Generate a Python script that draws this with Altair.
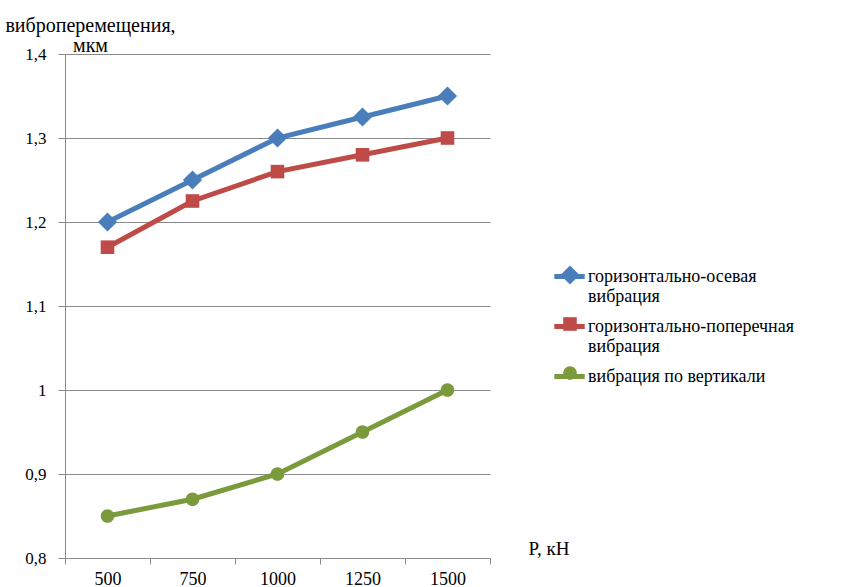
import altair as alt
import pandas as pd

# Load P (kN) on the x axis, vibration displacement (um) on the y axis
P_KN = ["500", "750", "1000", "1250", "1500"]
SERIES = [
    "горизонтально-осевая\nвибрация",
    "горизонтально-поперечная\nвибрация",
    "вибрация  по вертикали",
]
AXIAL = [1.2, 1.25, 1.3, 1.325, 1.35]
TRANSVERSE = [1.17, 1.225, 1.26, 1.28, 1.3]
VERTICAL = [0.85, 0.87, 0.9, 0.95, 1.0]
Y_TICKS = [0.8, 0.9, 1.0, 1.1, 1.2, 1.3, 1.4]

COLORS = ["#4A7EBB", "#BE4B48", "#7A9A3C"]
# marker outlines in unit coordinates: large diamond, smaller square and circle
SHAPES = [
    "M0,-1.2L1.2,0L0,1.2L-1.2,0Z",
    "M-0.85,-0.85L0.85,-0.85L0.85,0.85L-0.85,0.85Z",
    "M0.85,0A0.85,0.85,0,1,1,-0.85,0A0.85,0.85,0,1,1,0.85,0Z",
]
# legend line sample, same unit scale as the markers
LEGEND_LINE = "M-1.9,0L1.9,0"
SYMBOL_SIZE = 256

# marker keys differ from line keys so the two legends stay separate
MARKERS = [s + " " for s in SERIES]

rows = []
for name, mark, vals in zip(SERIES, MARKERS, [AXIAL, TRANSVERSE, VERTICAL]):
    for p, v in zip(P_KN, vals):
        rows.append({"P": p, "series": name, "marker": mark, "value": v})
df = pd.DataFrame(rows)

FONT = "Liberation Serif"
GRID = "#8a8a8a"
LABEL_SPLIT = "split(datum.label, '\\n')"
LEGEND_Y = 212


def legend(show_labels, legend_x, **kw):
    return alt.Legend(
        title=None,
        orient="none",
        legendX=legend_x,
        legendY=LEGEND_Y,
        labelExpr=LABEL_SPLIT,
        labelFont=FONT,
        labelFontSize=18,
        labelColor="#000000" if show_labels else "#ffffff",
        labelOpacity=1 if show_labels else 0,
        labelLimit=400,
        labelOffset=8,
        rowPadding=10,
        symbolSize=SYMBOL_SIZE,
        **kw,
    )


x = alt.X(
    "P:N",
    sort=P_KN,
    bandPosition=0.5,
    scale=alt.Scale(type="band", paddingInner=0, paddingOuter=0),
    axis=alt.Axis(
        title="P, кН",
        titleX=463,
        titleY=-4,
        titleAlign="left",
        titleBaseline="alphabetic",
        titleFont=FONT,
        titleFontSize=19,
        titleFontWeight="normal",
        titleColor="#000000",
        labelAngle=0,
        labelFont=FONT,
        labelFontSize=18,
        labelColor="#000000",
        labelPadding=6,
        tickBand="extent",
        tickSize=6,
        tickColor=GRID,
        domainColor=GRID,
        grid=False,
    ),
)

y = alt.Y(
    "value:Q",
    scale=alt.Scale(domain=[0.8, 1.4], nice=False, zero=False),
    axis=alt.Axis(
        values=Y_TICKS,
        labelExpr="replace(format(datum.value, '.1~f'), '.', ',')",
        title=["виброперемещения,", "мкм"],
        titleAngle=0,
        titleX=25,
        titleY=-23,
        titleAlign="center",
        titleBaseline="alphabetic",
        titleLineHeight=20,
        titleFont=FONT,
        titleFontSize=20,
        titleFontWeight="normal",
        titleColor="#000000",
        labelFont=FONT,
        labelFontSize=17,
        labelColor="#000000",
        labelPadding=12,
        tickSize=7,
        tickColor=GRID,
        domainColor=GRID,
        grid=True,
        gridColor=GRID,
        gridWidth=1,
    ),
)

lines = alt.Chart(df).mark_line(strokeWidth=5).encode(
    x=x,
    y=y,
    color=alt.Color(
        "series:N",
        sort=SERIES,
        scale=alt.Scale(domain=SERIES, range=COLORS),
        legend=legend(True, 494, symbolType=LEGEND_LINE, symbolStrokeWidth=5),
    ),
)

points = alt.Chart(df).mark_point(filled=True, opacity=1, size=SYMBOL_SIZE).encode(
    x=x,
    y=y,
    fill=alt.Fill(
        "marker:N",
        sort=MARKERS,
        scale=alt.Scale(domain=MARKERS, range=COLORS),
        legend=legend(False, 496, symbolStrokeWidth=1.5),
    ),
    shape=alt.Shape(
        "marker:N",
        sort=MARKERS,
        scale=alt.Scale(domain=MARKERS, range=SHAPES),
        legend=legend(False, 496, symbolStrokeWidth=1.5),
    ),
)

chart = (
    alt.layer(lines, points)
    .properties(
        width=425,
        height=504,
        autosize=alt.AutoSizeParams(type="none"),
        padding={"left": 65, "top": 54, "right": 356, "bottom": 29},
        background="#ffffff",
    )
    .configure(font=FONT)
    .configure_legend(labelFont=FONT)
    .configure_view(stroke=None)
)

chart.save("out.html", embed_options={"renderer": "svg", "actions": False})
